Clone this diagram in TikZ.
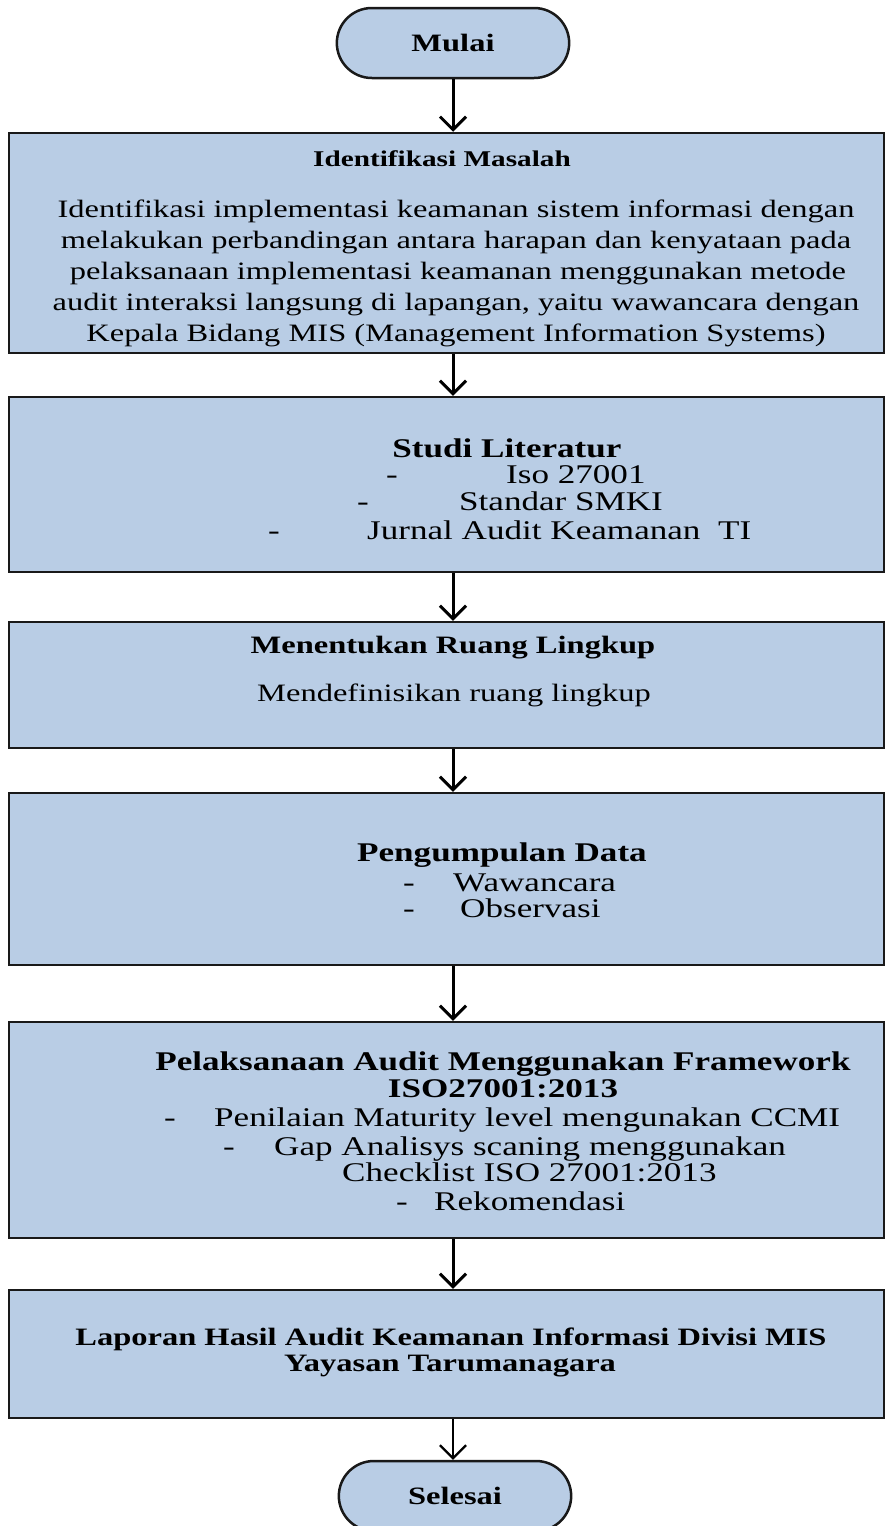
\documentclass[tikz,border=0pt]{standalone}
\usepackage{fontspec}
\setmainfont{Liberation Serif}[FakeStretch=1.3]
\usetikzlibrary{arrows.meta,shapes.misc}
\definecolor{boxblue}{RGB}{185,205,229}
\definecolor{edge}{RGB}{25,25,25}
\tikzset{
  box/.style={draw=edge,fill=boxblue,line width=2.5pt,minimum width=875pt},
  term/.style={rounded rectangle,draw=edge,fill=boxblue,line width=2.5pt,
    minimum width=239pt,minimum height=70pt,font=\fontsize{25pt}{30pt}\selectfont\bfseries},
  txt/.style={inner sep=0pt,anchor=base,font=\fontsize{25pt}{30pt}\selectfont},
  hd/.style={txt,font=\fontsize{25pt}{30pt}\selectfont\bfseries},
  itm/.style={txt,anchor=base west},
  lg/.style={font=\fontsize{27pt}{32pt}\selectfont},
  lgb/.style={font=\fontsize{27pt}{32pt}\selectfont\bfseries},
  arr/.style={line width=3pt,-{Straight Barb[length=13pt,width=26pt]}}
}
\begin{document}
\begin{tikzpicture}[x=1pt,y=-1pt]
    \useasboundingbox (0,0) rectangle (886,1526);
    \coordinate (ax) at (453,0);
    % boxes
    \node[term] (mulai) at (453,43) {Mulai};
    \node[box,minimum height=220pt] (idm) at (446.5,243) {};
    \node[box,minimum height=175pt] (studi) at (446.5,484.5) {};
    \node[box,minimum height=126pt] (ruang) at (446.5,685) {};
    \node[box,minimum height=172pt] (data) at (446.5,879) {};
    \node[box,minimum height=216pt] (audit) at (446.5,1130) {};
    \node[box,minimum height=128pt] (lapor) at (446.5,1354) {};
    \node[term] (selesai) at (455,1496) {Selesai};
    % identifikasi masalah
    \node[hd,font=\fontsize{22.5pt}{27pt}\selectfont\bfseries] (idm-t) at (442,166) {Identifikasi Masalah};
    \node[txt] (idm-1) at (456,217) {Identifikasi implementasi keamanan sistem informasi dengan};
    \node[txt] (idm-2) at (456,248) {melakukan perbandingan antara harapan dan kenyataan pada};
    \node[txt] (idm-3) at (458,279) {pelaksanaan implementasi keamanan menggunakan metode};
    \node[txt] (idm-4) at (456,310) {audit interaksi langsung di lapangan, yaitu wawancara dengan};
    \node[txt] (idm-5) at (456,341) {Kepala Bidang MIS (Management Information Systems)};
    % studi literatur
    \node[hd,lgb] (studi-t) at (507,457) {Studi Literatur};
    \node[itm,lg] (studi-d1) at (386,483) {-};
    \node[itm,lg] (studi-1) at (506,483) {Iso 27001};
    \node[itm,lg] (studi-d2) at (357,510) {-};
    \node[itm,lg] (studi-2) at (459,510) {Standar SMKI};
    \node[itm,lg] (studi-d3) at (268,539) {-};
    \node[itm,lg] (studi-3) at (367,539) {Jurnal Audit Keamanan\ \ TI};
    % ruang lingkup
    \node[hd] (ruang-t) at (453,653) {Menentukan Ruang Lingkup};
    \node[txt] (ruang-1) at (454,701) {Mendefinisikan ruang lingkup};
    % pengumpulan data
    \node[hd,lgb] (data-t) at (502,861) {Pengumpulan Data};
    \node[itm,lg] (data-d1) at (403,891) {-};
    \node[itm,lg] (data-1) at (453,891) {Wawancara};
    \node[itm,lg] (data-d2) at (403,917) {-};
    \node[itm,lg] (data-2) at (460,917) {Observasi};
    % pelaksanaan audit
    \node[hd,lgb] (audit-t1) at (503,1070) {Pelaksanaan Audit Menggunakan Framework};
    \node[hd,lgb] (audit-t2) at (503,1097) {ISO27001:2013};
    \node[itm,lg] (audit-d1) at (164,1126) {-};
    \node[itm,lg] (audit-1) at (214,1126) {Penilaian Maturity level mengunakan CCMI};
    \node[itm,lg] (audit-d2) at (223,1155) {-};
    \node[itm,lg] (audit-2) at (274,1155) {Gap Analisys scaning menggunakan};
    \node[itm,lg] (audit-3) at (342,1181) {Checklist ISO 27001:2013};
    \node[itm,lg] (audit-d4) at (396,1210) {-};
    \node[itm,lg] (audit-4) at (434,1210) {Rekomendasi};
    % laporan
    \node[hd] (lapor-t1) at (451,1345) {Laporan Hasil Audit Keamanan Informasi Divisi MIS};
    \node[hd] (lapor-t2) at (450,1371) {Yayasan Tarumanagara};
    % arrows
    \draw[arr] (mulai.south) -- (idm.north -| ax);
    \draw[arr] (idm.south -| ax) -- (studi.north -| ax);
    \draw[arr] (studi.south -| ax) -- (ruang.north -| ax);
    \draw[arr] (ruang.south -| ax) -- (data.north -| ax);
    \draw[arr] (data.south -| ax) -- (audit.north -| ax);
    \draw[arr] (audit.south -| ax) -- (lapor.north -| ax);
    \draw[arr,line width=2.2pt] (lapor.south -| ax) -- (selesai.north -| ax);
\end{tikzpicture}
\end{document}
